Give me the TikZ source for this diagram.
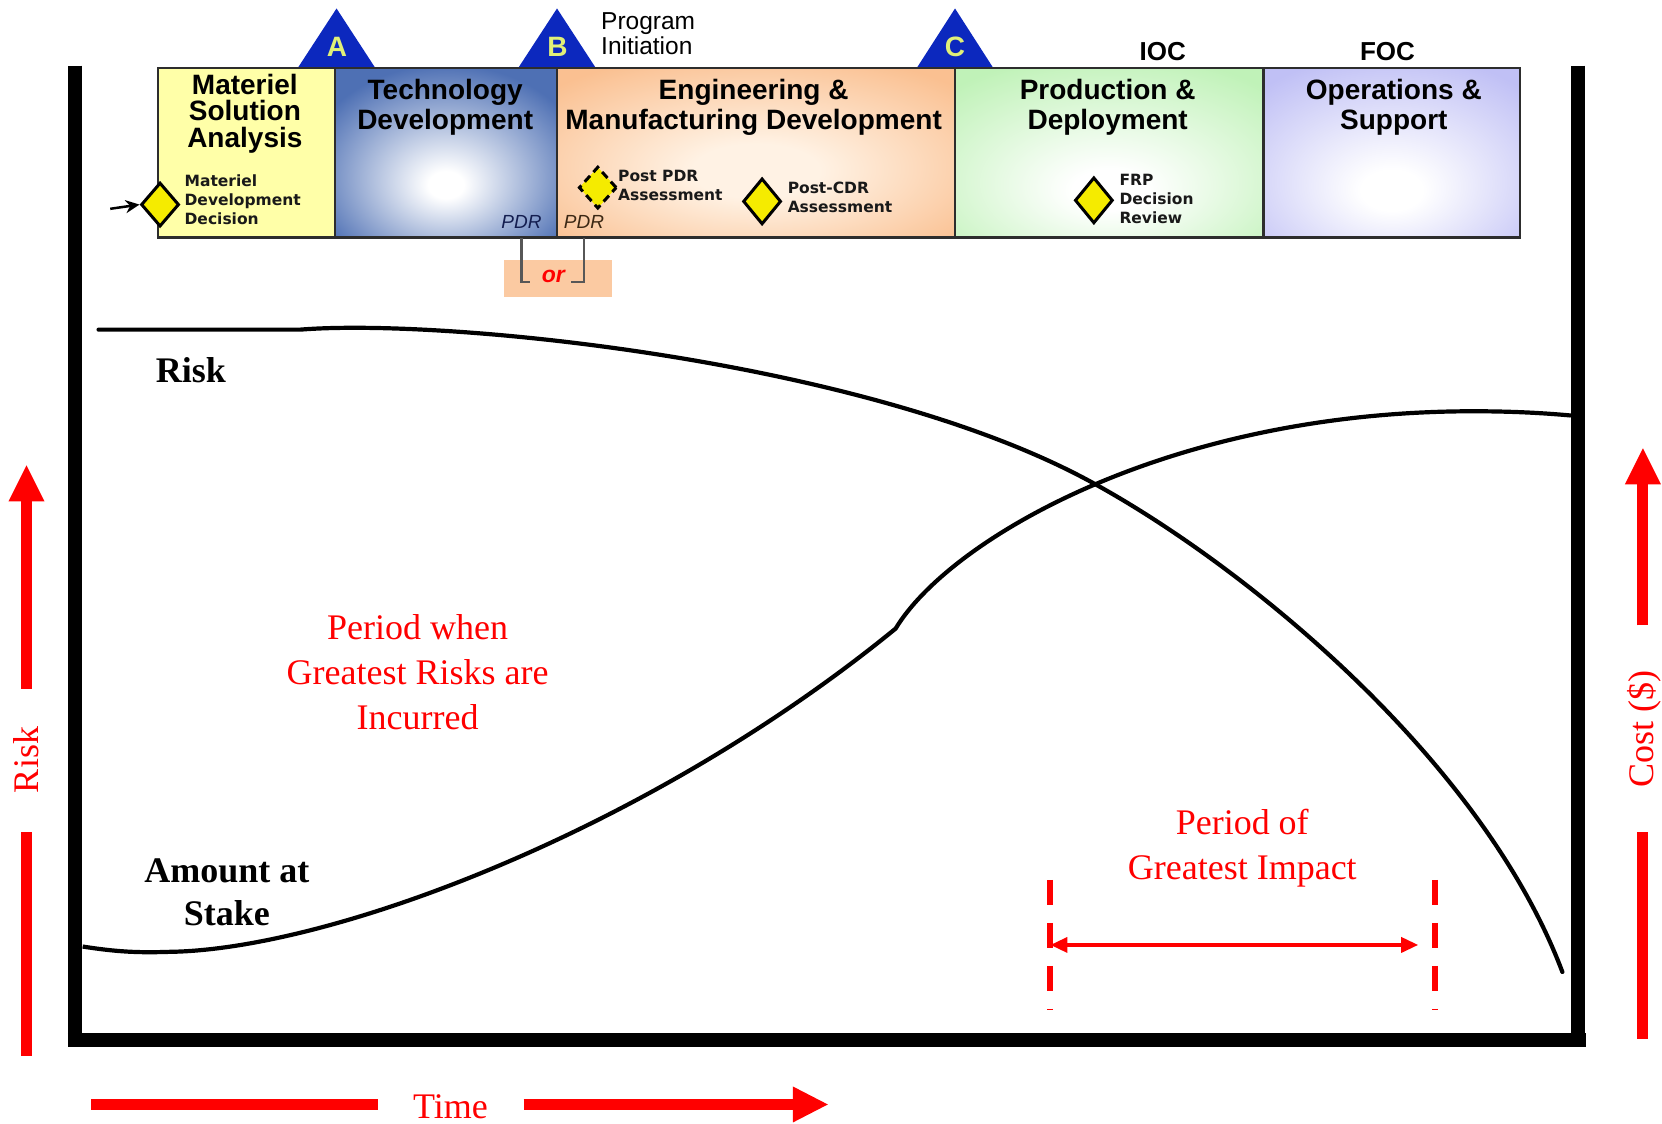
\documentclass[tikz,border=0pt]{standalone}
\usepackage{fontspec}
\setmainfont{Liberation Serif}
\newfontfamily\arialf{Liberation Sans}
\newfontfamily\smallf{DejaVu Sans}
\usetikzlibrary{arrows.meta,shapes.geometric}
\definecolor{tdblue}{RGB}{78,112,180}
\definecolor{emdpeach}{RGB}{250,192,145}
\definecolor{emdlight}{RGB}{255,242,228}
\definecolor{pdgreen}{RGB}{192,242,184}
\definecolor{oslav}{RGB}{192,192,245}
\definecolor{msay}{RGB}{255,255,168}
\definecolor{triblue}{RGB}{12,40,190}
\definecolor{letteryel}{RGB}{225,240,120}
\definecolor{diayel}{RGB}{245,235,0}
\definecolor{bordergray}{RGB}{45,45,45}
\definecolor{orfill}{RGB}{251,202,162}
\definecolor{pdrnavy}{RGB}{20,30,80}
\definecolor{pdrbrown}{RGB}{60,40,20}
\pgfdeclareradialshading{tdglow}{\pgfpoint{0bp}{-10bp}}{color(0bp)=(white); color(4bp)=(white); color(32bp)=(tdblue); color(80bp)=(tdblue)}
\pgfdeclareradialshading{emdglow}{\pgfpoint{0bp}{-6bp}}{color(0bp)=(emdlight); color(8bp)=(emdlight); color(34bp)=(emdpeach); color(80bp)=(emdpeach)}
\pgfdeclareradialshading{pdglow}{\pgfpoint{0bp}{-12bp}}{color(0bp)=(white); color(6bp)=(white); color(36bp)=(pdgreen); color(80bp)=(pdgreen)}
\pgfdeclareradialshading{osglow}{\pgfpoint{0bp}{-12bp}}{color(0bp)=(white); color(6bp)=(white); color(36bp)=(oslav); color(80bp)=(oslav)}
\begin{document}
\begin{tikzpicture}[x=1.06pt,y=-1.06pt,
  phase/.style={font=\arialf\bfseries\fontsize{28}{30}\selectfont,align=center,inner sep=0pt,text=black},
  smalllab/.style={font=\smallf\bfseries\fontsize{15.5}{19}\selectfont,align=left,inner sep=0pt,anchor=west,text=black!90},
  pdrlab/.style={font=\arialf\itshape\fontsize{19}{19}\selectfont,inner sep=0pt},
  milestone/.style={font=\arialf\bfseries\fontsize{26}{26}\selectfont,inner sep=0pt},
  tri/.style={fill=triblue},
  triletter/.style={font=\arialf\bfseries\fontsize{28}{28}\selectfont,text=letteryel,inner sep=0pt},
  dia/.style={shape=diamond,draw=black,line width=3pt,fill=diayel,inner sep=0pt,minimum width=38pt,minimum height=44pt},
  border/.style={draw=bordergray,line width=2.5pt},
  bracket/.style={draw=bordergray!80,line width=2.5pt},
  curve/.style={draw=black,line width=4.2pt,line cap=round},
  frame/.style={draw=black,line width=14pt},
  redtxt/.style={font=\fontsize{36}{45}\selectfont,text=red,align=center,inner sep=0pt},
  blacktxt/.style={font=\bfseries\fontsize{36}{43.5}\selectfont,align=center,inner sep=0pt},
  redshaft/.style={draw=red,line width=11pt},
]
\useasboundingbox (0,0) rectangle (1568,1060);
\fill[white] (0,0) rectangle (1568,1060);

% milestone triangles
\fill[tri] (281,64) -- (317.5,8) -- (354,64) -- cycle;
\fill[tri] (489,64) -- (525.5,8) -- (562,64) -- cycle;
\fill[tri] (865,64) -- (901,8) -- (937,64) -- cycle;
\node[triletter] (la) at (318,44) {A};
\node[triletter] (lb) at (526,44) {B};
\node[triletter] (lc) at (901,44) {C};

% phase boxes
\fill[msay] (149,64) rectangle (316,224);
\shade[shading=tdglow] (316,64) rectangle (525.5,224);
\shade[shading=emdglow] (525.5,64) rectangle (901,224);
\shade[shading=pdglow] (901,64) rectangle (1192,224);
\shade[shading=osglow] (1192,64) rectangle (1434,224);
\draw[border] (149,64) rectangle (1434,224);
\draw[border] (316,64) -- (316,224);
\draw[border] (525.5,64) -- (525.5,224);
\draw[border] (901,64) -- (901,224);
\draw[border] (1192,64) -- (1192,224);

% phase titles
\node[phase,font=\arialf\bfseries\fontsize{28}{26.5}\selectfont] (msat) at (231,107) {Materiel\\Solution\\Analysis};
\node[phase] (tdt) at (420,101) {Technology\\Development};
\node[phase] (emdt) at (711,101) {Engineering \&\\Manufacturing Development};
\node[phase] (pdt) at (1045,101) {Production \&\\Deployment};
\node[phase] (ost) at (1315,101) {Operations \&\\Support};

% program initiation, IOC, FOC
\node[font=\arialf\fontsize{24.5}{25.5}\selectfont,align=left,anchor=west,inner sep=0pt,text=black] (pinit) at (567,32) {Program\\Initiation};
\node[milestone] (ioc) at (1097,49) {IOC};
\node[milestone] (foc) at (1309,49) {FOC};

% decision points
\node[dia] (mdd) at (151,193) {};
\coordinate (mddin) at (104,197);
\draw[line width=2.5pt,-{Stealth[length=14pt,width=13pt]}] (mddin) -- (mdd.west);
\node[smalllab] (mddt) at (174,188.5) {Materiel\\Development\\Decision};

\node[dia,dashed,dash pattern=on 8pt off 5pt,minimum height=42pt] (ppdr) at (564,177) {};
\node[smalllab] (ppdrt) at (583,174.5) {Post PDR\\Assessment};

\node[dia,minimum height=46pt] (pcdr) at (719,190) {};
\node[smalllab] (pcdrt) at (743,186) {Post-CDR\\Assessment};

\node[dia,minimum height=46pt] (frp) at (1032,189) {};
\node[smalllab] (frpt) at (1056,188) {FRP\\Decision\\Review};

% PDR / or
\node[pdrlab,text=pdrnavy] (pdr1) at (492,209) {PDR};
\node[pdrlab,text=pdrbrown] (pdr2) at (551,209) {PDR};
\node[fill=orfill,minimum width=108pt,minimum height=37pt,inner sep=0pt] (orbox) at (526,262.5) {};
\node[font=\arialf\bfseries\itshape\fontsize{23}{23}\selectfont,text=red,inner sep=0pt] (ortxt) at (522,261) {or};
\coordinate (barbot) at (0,225);
\coordinate (orl) at (500,266);
\coordinate (orr) at (539,266);
\draw[bracket] (pdr1 |- barbot) |- (orl);
\draw[bracket] (pdr2 |- barbot) |- (orr);

% frame
\draw[frame] (70.5,62) -- (70.5,988);
\draw[frame] (64,981.5) -- (1496,981.5);
\draw[frame] (1489,62) -- (1489,988);

% curves
\coordinate (rs) at (93,311);
\coordinate (r1) at (283,311);
\coordinate (cross) at (1030,455);
\coordinate (re) at (1474,917);
\draw[curve] (rs) -- (r1) .. controls (420,300) and (820,340) .. (cross) .. controls (1180,537) and (1400,720) .. (re);

\coordinate (as) at (78,893);
\coordinate (amin) at (160,898);
\coordinate (kink) at (845,593);
\coordinate (atop) at (1390,388);
\coordinate (ae) at (1482,392);
\draw[curve,line cap=butt] (as) .. controls (110,898) and (130,899) .. (amin) .. controls (310,896) and (610,785) .. (kink) .. controls (895,510) and (1100,388) .. (atop) .. controls (1430,388) and (1460,390) .. (ae);

% black labels
\node[blacktxt] (risklab) at (180,349) {Risk};
\node[blacktxt] (amtlab) at (214,842) {Amount at\\Stake};

% red labels
\node[redtxt] (period1) at (394,634) {Period when\\Greatest Risks are\\Incurred};
\node[redtxt] (period2) at (1172,800) {Period of\\Greatest Impact};

% period of greatest impact markers
\draw[red,line width=6pt,dash pattern=on 25pt off 18pt] (991,830) -- (991,953);
\draw[red,line width=6pt,dash pattern=on 25pt off 18pt] (1354,830) -- (1354,953);
\coordinate (pl) at (991,891.5);
\coordinate (pr) at (1338,891.5);
\draw[red,line width=3.5pt,{Triangle[length=17pt,width=15pt]}-{Triangle[length=17pt,width=15pt]}] (pl) -- (pr);

% left Risk axis
\node[font=\fontsize{36}{36}\selectfont,text=red,rotate=90,inner sep=0pt] (riskaxis) at (25,717) {Risk};
\draw[redshaft] (25,650) -- (25,471);
\fill[red] (25,439) -- (8,473) -- (42,473) -- cycle;
\draw[redshaft] (25,785) -- (25,996);

% right Cost axis
\node[font=\fontsize{36}{36}\selectfont,text=red,rotate=90,inner sep=0pt] (costaxis) at (1551,688) {Cost (\$)};
\draw[redshaft] (1550,590) -- (1550,455);
\fill[red] (1550,423) -- (1533,457) -- (1567,457) -- cycle;
\draw[redshaft] (1550,785) -- (1550,980);

% Time axis
\node[font=\fontsize{36}{36}\selectfont,text=red,inner sep=0pt] (timeaxis) at (425,1044) {Time};
\draw[redshaft] (86,1042) -- (357,1042);
\draw[redshaft] (494,1042) -- (750,1042);
\fill[red] (781,1042) -- (748,1025) -- (748,1059) -- cycle;
\end{tikzpicture}
\end{document}
